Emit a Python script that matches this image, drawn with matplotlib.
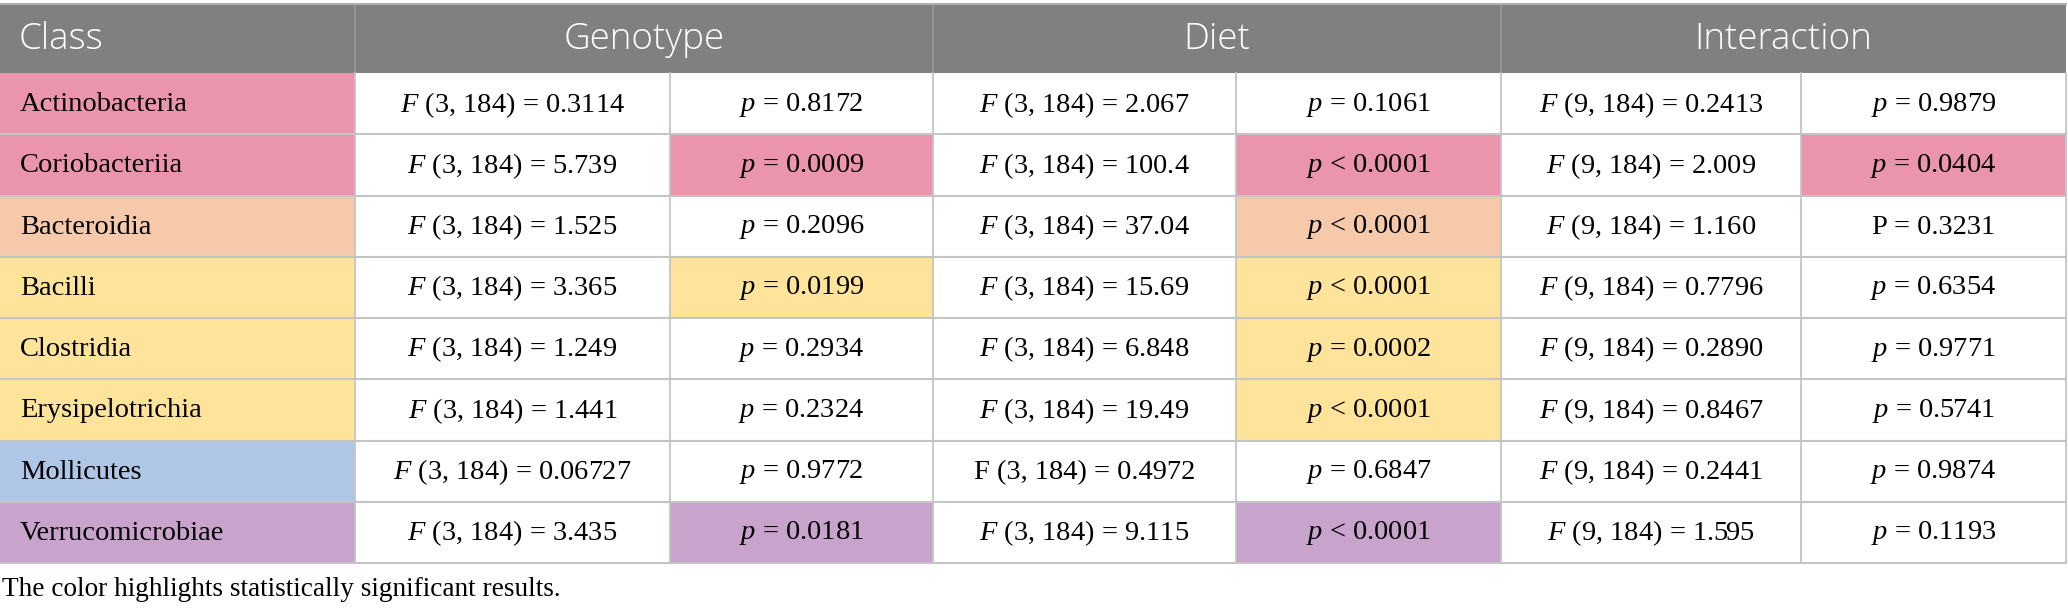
import matplotlib
matplotlib.use("Agg")
import matplotlib.pyplot as plt
from matplotlib.patches import Rectangle

# table data
classes = ["Actinobacteria", "Coriobacteriia", "Bacteroidia", "Bacilli",
           "Clostridia", "Erysipelotrichia", "Mollicutes", "Verrucomicrobiae"]
class_colors = ["#EB94AD", "#EB94AD", "#F7C9AB", "#FEE49A",
                "#FEE49A", "#FEE49A", "#B0C6E6", "#C8A3CC"]

groups = ["Genotype", "Diet", "Interaction"]
group_df = ["(3, 184)", "(3, 184)", "(9, 184)"]

genotype_F = ["0.3114", "5.739", "1.525", "3.365", "1.249", "1.441", "0.06727", "3.435"]
genotype_p = ["0.8172", "0.0009", "0.2096", "0.0199", "0.2934", "0.2324", "0.9772", "0.0181"]
genotype_op = ["=", "=", "=", "=", "=", "=", "=", "="]

diet_F = ["2.067", "100.4", "37.04", "15.69", "6.848", "19.49", "0.4972", "9.115"]
diet_p = ["0.1061", "0.0001", "0.0001", "0.0001", "0.0002", "0.0001", "0.6847", "0.0001"]
diet_op = ["=", "<", "<", "<", "=", "<", "=", "<"]

inter_F = ["0.2413", "2.009", "1.160", "0.7796", "0.2890", "0.8467", "0.2441", "1.595"]
inter_p = ["0.9879", "0.0404", "0.3231", "0.6354", "0.9771", "0.5741", "0.9874", "0.1193"]
inter_op = ["=", "=", "=", "=", "=", "=", "=", "="]

# cells printed upright in the source (group index, row index)
upright_F = [(1, 6)]
upright_p = [(2, 2)]

F_vals = [genotype_F, diet_F, inter_F]
p_vals = [genotype_p, diet_p, inter_p]
p_ops = [genotype_op, diet_op, inter_op]

footnote = "The color highlights statistically significant results."

plt.rcParams["mathtext.fontset"] = "custom"
plt.rcParams["mathtext.rm"] = "Liberation Serif"
plt.rcParams["mathtext.it"] = "Liberation Serif:italic"

W, H = 2068, 616
fig = plt.figure(figsize=(W / 100, H / 100), dpi=100)
ax = fig.add_axes([0, 0, 1, 1])
ax.set_xlim(0, W)
ax.set_ylim(H, 0)
ax.axis("off")

xs = [0, 355, 670, 933, 1236, 1501, 1801, 2066]
head_top, head_bot = 4, 73
row_h = 61.25
grid_c = "#C4C4C4"
head_c = "#808080"
serif = "Liberation Serif"
fs = 20.5
hfs = 26.5

# header
ax.add_patch(Rectangle((0, head_top), xs[-1], head_bot - head_top, color=head_c, lw=0))
ax.text(19, (head_top + head_bot) / 2 + 1, "Class", color="white", fontsize=hfs,
        family="Open Sans", fontweight="light", ha="left", va="center")
for g, name in enumerate(groups):
    xa, xb = xs[1 + 2 * g], xs[3 + 2 * g]
    ax.text((xa + xb) / 2, (head_top + head_bot) / 2 + 1, name, color="white",
            fontsize=hfs, family="Open Sans", fontweight="light",
            ha="center", va="center")
for x in [xs[1], xs[3], xs[5]]:
    ax.plot([x, x], [head_top, head_bot], color="#9A9A9A", lw=1.2)
ax.plot([0, xs[-1]], [head_top, head_top], color="#B0B0B0", lw=1.5)

# body
for i, cls in enumerate(classes):
    y0 = head_bot + i * row_h
    yc = y0 + row_h / 2 + 1
    ax.add_patch(Rectangle((0, y0), xs[1], row_h, color=class_colors[i], lw=0))
    ax.text(20, yc, cls, family=serif, fontsize=fs, ha="left", va="center")
    for g in range(3):
        xa, xm, xb = xs[1 + 2 * g], xs[2 + 2 * g], xs[3 + 2 * g]
        pv = p_vals[g][i]
        if float(pv) < 0.05:
            ax.add_patch(Rectangle((xm, y0), xb - xm, row_h, color=class_colors[i], lw=0))
        f_lab = "F" if (g, i) in upright_F else r"$\it{F}$"
        ax.text((xa + xm) / 2, yc, f"{f_lab} {group_df[g]} = {F_vals[g][i]}",
                family=serif, fontsize=fs, ha="center", va="center")
        p_lab = "P" if (g, i) in upright_p else r"$\it{p}$"
        ax.text((xm + xb) / 2, yc, f"{p_lab} {p_ops[g][i]} {pv}",
                family=serif, fontsize=fs, ha="center", va="center")

bottom = head_bot + len(classes) * row_h
for i in range(1, len(classes) + 1):
    y = head_bot + i * row_h
    ax.plot([0, xs[-1]], [y, y], color=grid_c, lw=1.5)
for x in xs[1:]:
    ax.plot([x, x], [head_bot, bottom], color=grid_c, lw=1.3)

ax.text(2, 590, footnote, family=serif, fontsize=19.6, ha="left", va="center")

fig.savefig("out.png", dpi=100)
